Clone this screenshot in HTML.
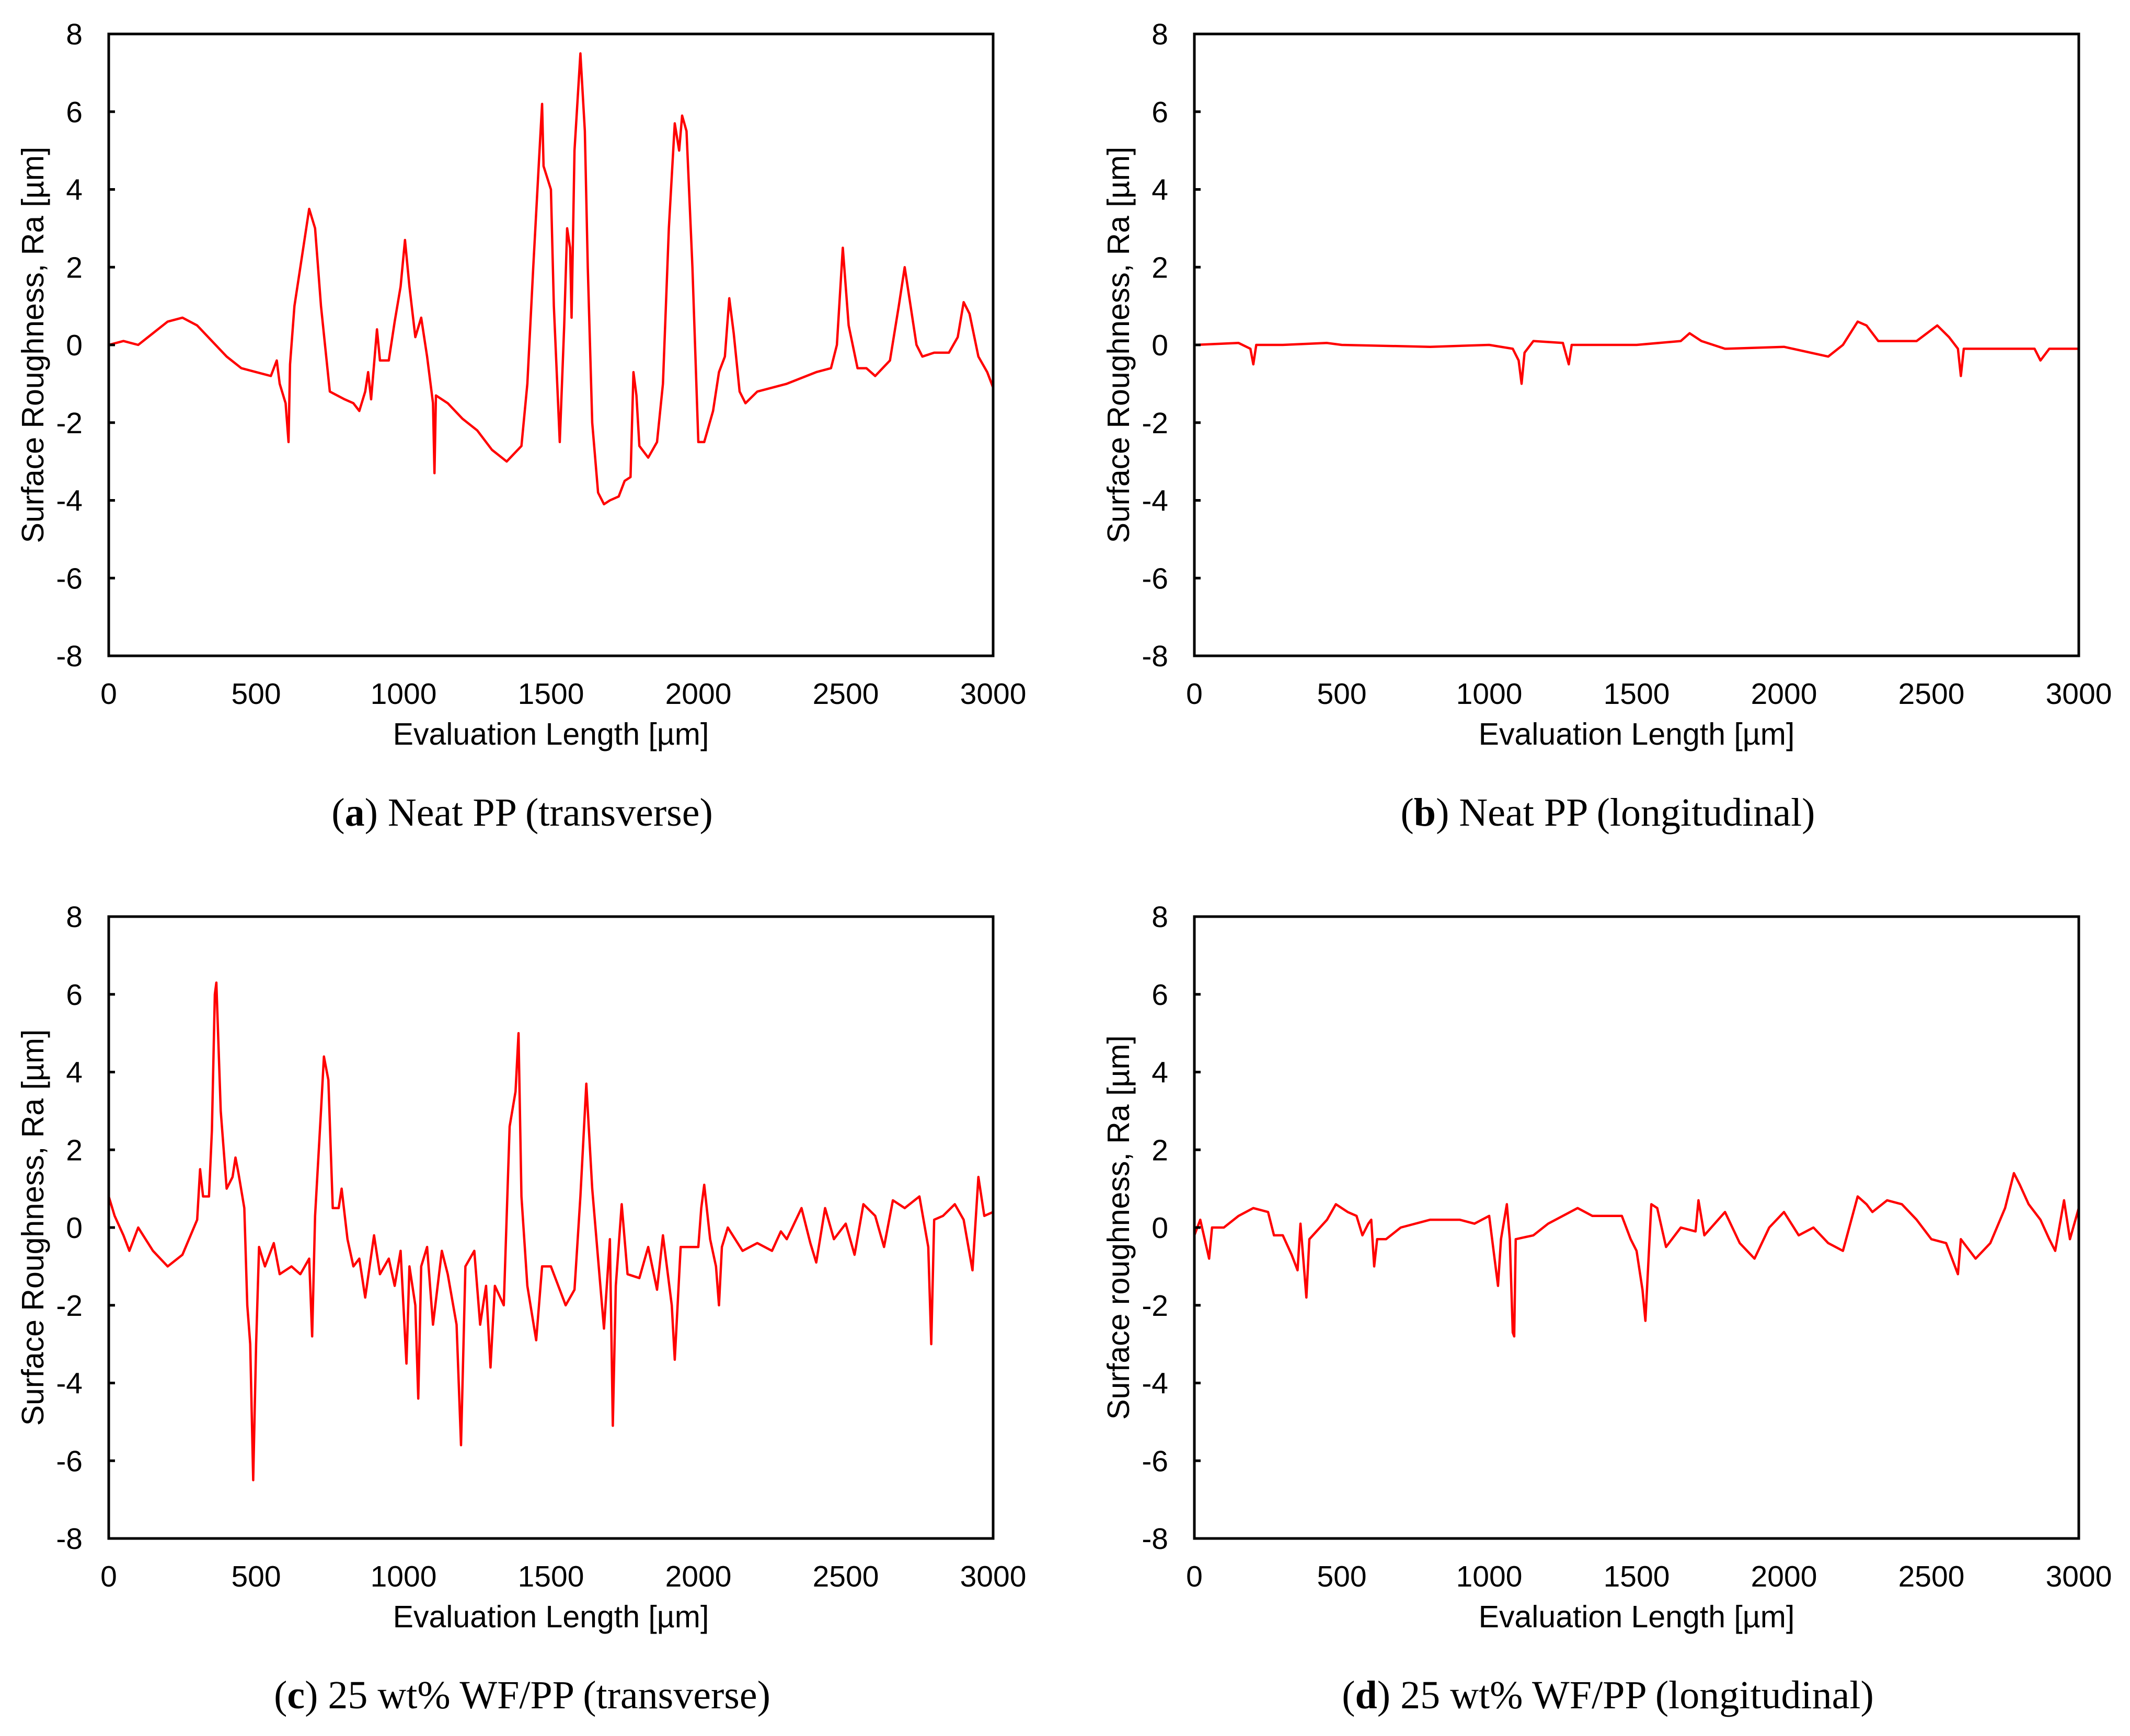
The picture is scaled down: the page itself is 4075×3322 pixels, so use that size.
<!DOCTYPE html>
<html><head><meta charset="utf-8"><style>
html,body{margin:0;padding:0;background:#fff}
svg{display:block}
text{font-family:"Liberation Sans",sans-serif;fill:#000}
.cap{font-family:"Liberation Serif",serif;font-size:76px}
</style></head><body>
<svg id="fig" width="4075" height="3322" viewBox="0 0 4075 3322" xmlns="http://www.w3.org/2000/svg"></svg>
<script>
const xTicks=[0,500,1000,1500,2000,2500,3000];
const yTicks=[8,6,4,2,0,-2,-4,-6,-8];
const aX=[0,50,100,150,200,250,300,350,400,450,500,550,570,580,600,610,615,630,650,680,700,720,750,800,830,850,870,880,890,910,920,950,970,990,1005,1020,1040,1060,1080,1100,1105,1110,1150,1200,1250,1300,1350,1400,1420,1440,1460,1470,1475,1500,1510,1530,1545,1555,1565,1570,1580,1600,1615,1625,1640,1660,1680,1700,1730,1750,1770,1780,1790,1800,1830,1860,1880,1900,1920,1935,1945,1960,1980,2000,2020,2050,2070,2090,2105,2120,2140,2160,2200,2300,2400,2450,2470,2490,2510,2540,2570,2600,2650,2680,2700,2720,2740,2760,2800,2850,2880,2900,2920,2950,2980,3000];
const aY=[0,0.1,0,0.3,0.6,0.7,0.5,0.1,-0.3,-0.6,-0.7,-0.8,-0.4,-1.0,-1.5,-2.5,-0.5,1,2,3.5,3,1,-1.2,-1.4,-1.5,-1.7,-1.2,-0.7,-1.4,0.4,-0.4,-0.4,0.6,1.5,2.7,1.5,0.2,0.7,-0.3,-1.5,-3.3,-1.3,-1.5,-1.9,-2.2,-2.7,-3.0,-2.6,-1,2,4.8,6.2,4.6,4,1,-2.5,0.5,3,2.5,0.7,5,7.5,5.5,2,-2,-3.8,-4.1,-4,-3.9,-3.5,-3.4,-0.7,-1.3,-2.6,-2.9,-2.5,-1,3,5.7,5.0,5.9,5.5,2,-2.5,-2.5,-1.7,-0.7,-0.3,1.2,0.3,-1.2,-1.5,-1.2,-1.0,-0.7,-0.6,0,2.5,0.5,-0.6,-0.6,-0.8,-0.4,1.0,2.0,1.0,0,-0.3,-0.2,-0.2,0.2,1.1,0.8,-0.3,-0.7,-1.1];
const bX=[0,150,190,200,210,300,450,500,800,1000,1080,1100,1110,1120,1150,1250,1270,1280,1500,1650,1680,1720,1800,2000,2150,2200,2250,2280,2320,2400,2450,2520,2560,2590,2600,2610,2700,2850,2870,2900,3000];
const bY=[0,0.05,-0.1,-0.5,0,0,0.05,0,-0.05,0,-0.1,-0.4,-1.0,-0.2,0.1,0.05,-0.5,0,0,0.1,0.3,0.1,-0.1,-0.05,-0.3,0,0.6,0.5,0.1,0.1,0.1,0.5,0.2,-0.1,-0.8,-0.1,-0.1,-0.1,-0.4,-0.1,-0.1];
const cX=[0,20,50,70,100,150,200,250,300,310,320,340,350,360,365,380,400,420,430,440,460,470,480,490,500,510,530,560,580,620,650,680,690,700,720,730,745,760,780,790,810,830,850,870,900,920,950,970,990,1010,1020,1040,1050,1060,1080,1100,1130,1150,1180,1195,1210,1240,1260,1280,1295,1310,1340,1360,1380,1390,1400,1420,1450,1470,1500,1530,1550,1580,1600,1620,1640,1660,1680,1700,1710,1720,1740,1760,1800,1830,1860,1880,1910,1920,1940,2000,2010,2020,2040,2060,2070,2080,2100,2150,2200,2250,2280,2300,2350,2380,2400,2430,2460,2500,2530,2560,2600,2630,2660,2700,2750,2780,2790,2800,2830,2870,2900,2930,2950,2970,3000];
const cY=[0.8,0.3,-0.2,-0.6,0,-0.6,-1.0,-0.7,0.2,1.5,0.8,0.8,2.5,6.0,6.3,3,1.0,1.3,1.8,1.4,0.5,-2,-3,-6.5,-3,-0.5,-1,-0.4,-1.2,-1.0,-1.2,-0.8,-2.8,0.3,3.0,4.4,3.8,0.5,0.5,1.0,-0.3,-1,-0.8,-1.8,-0.2,-1.2,-0.8,-1.5,-0.6,-3.5,-1,-2,-4.4,-1,-0.5,-2.5,-0.6,-1.2,-2.5,-5.6,-1,-0.6,-2.5,-1.5,-3.6,-1.5,-2,2.6,3.5,5.0,0.8,-1.5,-2.9,-1.0,-1.0,-1.6,-2.0,-1.6,0.8,3.7,1.0,-0.8,-2.6,-0.3,-5.1,-1.5,0.6,-1.2,-1.3,-0.5,-1.6,-0.2,-2,-3.4,-0.5,-0.5,0.5,1.1,-0.3,-1.0,-2.0,-0.5,0,-0.6,-0.4,-0.6,-0.1,-0.3,0.5,-0.4,-0.9,0.5,-0.3,0.1,-0.7,0.6,0.3,-0.5,0.7,0.5,0.8,-0.5,-3.0,0.2,0.3,0.6,0.2,-1.1,1.3,0.3,0.4];
const dX=[0,20,50,60,100,150,200,250,270,300,330,350,360,380,390,450,480,520,550,570,590,600,610,620,650,700,800,900,950,1000,1030,1040,1060,1070,1080,1085,1090,1150,1200,1300,1350,1400,1450,1480,1500,1520,1530,1550,1570,1600,1650,1700,1710,1730,1800,1850,1900,1950,2000,2050,2100,2150,2200,2250,2280,2300,2350,2400,2450,2500,2550,2590,2600,2650,2700,2750,2780,2800,2830,2870,2900,2920,2950,2970,3000];
const dY=[-0.2,0.2,-0.8,0,0,0.3,0.5,0.4,-0.2,-0.2,-0.7,-1.1,0.1,-1.8,-0.3,0.2,0.6,0.4,0.3,-0.2,0.1,0.2,-1.0,-0.3,-0.3,0,0.2,0.2,0.1,0.3,-1.5,-0.3,0.6,-0.3,-2.7,-2.8,-0.3,-0.2,0.1,0.5,0.3,0.3,0.3,-0.3,-0.6,-1.6,-2.4,0.6,0.5,-0.5,0,-0.1,0.7,-0.2,0.4,-0.4,-0.8,0,0.4,-0.2,0,-0.4,-0.6,0.8,0.6,0.4,0.7,0.6,0.2,-0.3,-0.4,-1.2,-0.3,-0.8,-0.4,0.5,1.4,1.1,0.6,0.2,-0.3,-0.6,0.7,-0.3,0.5];

const NS="http://www.w3.org/2000/svg";
const svg=document.getElementById('fig');
function mk(tag,attrs,parent){const e=document.createElementNS(NS,tag);for(const k in attrs)e.setAttribute(k,attrs[k]);(parent||svg).appendChild(e);return e;}

const panels=[
 {id:'a',x0:208,y0:65,xs:aX,ys:aY,yt:'Surface Roughness, Ra [µm]',cap:' Neat PP (transverse)'},
 {id:'b',x0:2285,y0:65,xs:bX,ys:bY,yt:'Surface Roughness, Ra [µm]',cap:' Neat PP (longitudinal)'},
 {id:'c',x0:208,y0:1754,xs:cX,ys:cY,yt:'Surface Roughness, Ra [µm]',cap:' 25 wt% WF/PP (transverse)'},
 {id:'d',x0:2285,y0:1754,xs:dX,ys:dY,yt:'Surface roughness, Ra [µm]',cap:' 25 wt% WF/PP (longitudinal)'}
];
const W=1692,H=1190;
panels.forEach(p=>{
  const g=mk('g',{});
  
  
  const sx=v=>p.x0+v/3000*W;
  const sy=v=>p.y0+(8-v)/16*H;
  let d='';
  p.xs.forEach((x,i)=>{d+=(i?'L':'M')+sx(x).toFixed(1)+','+sy(p.ys[i]).toFixed(1);});
  const path=mk('path',{d:d,fill:'none',stroke:'#ff0000','stroke-width':4.5,'stroke-linejoin':'round'},g);
  
  
  const fr=mk('rect',{x:p.x0,y:p.y0,width:W,height:H,fill:'none',stroke:'#000','stroke-width':5},g);
  
  
  yTicks.forEach(t=>{
    mk('line',{x1:p.x0,x2:p.x0+12,y1:sy(t),y2:sy(t),stroke:'#000','stroke-width':5},g);
    const tx=mk('text',{x:p.x0-50,y:sy(t)+20,'font-size':57,'text-anchor':'end'},g);
    tx.textContent=t;
    
    
  });
  xTicks.forEach(t=>{
    const tx=mk('text',{x:sx(t),y:p.y0+H+92,'font-size':57,'text-anchor':'middle'},g);
    tx.textContent=t;
    
    
  });
  const xt=mk('text',{x:p.x0+W/2,y:p.y0+H+170,'font-size':59,'text-anchor':'middle'},g);
  xt.textContent='Evaluation Length [µm]';
  
  
  const cy=p.y0+H/2, cx=p.x0-125;
  const yt=mk('text',{x:cx,y:cy,'font-size':59,'text-anchor':'middle',transform:'rotate(-90 '+cx+' '+cy+')'},g);
  yt.textContent=p.yt;
  
  
  const cp=mk('text',{x:p.x0+W/2-55,y:p.y0+H+325,'text-anchor':'middle','class':'cap'},g);
  
  
  const t1=mk('tspan',{},cp);t1.textContent='(';
  const t2=mk('tspan',{'font-weight':'bold'},cp);t2.textContent=p.id;
  const t3=mk('tspan',{},cp);t3.textContent=')'+p.cap;
});
</script>
</body></html>
